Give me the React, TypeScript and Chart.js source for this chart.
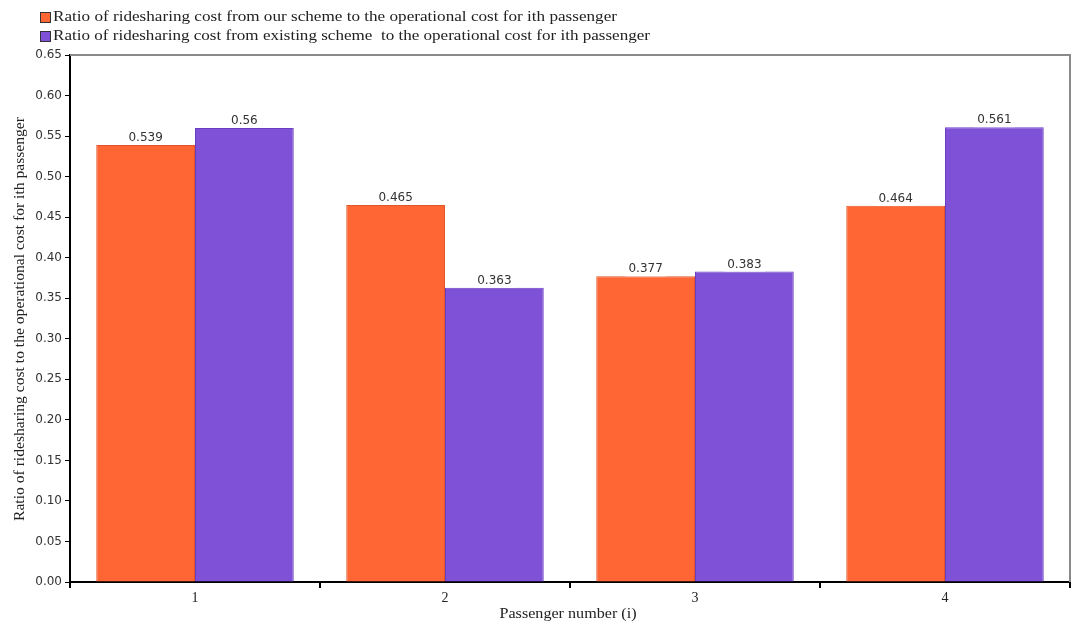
import React, { useEffect, useRef } from "react";
import { Chart, registerables } from "chart.js";

Chart.register(...registerables);

const categories = ["1", "2", "3", "4"];
const ourScheme = [0.539, 0.465, 0.377, 0.464];
const existingScheme = [0.56, 0.363, 0.383, 0.561];
const valueLabelsOur = ["0.539", "0.465", "0.377", "0.464"];
const valueLabelsExisting = ["0.56", "0.363", "0.383", "0.561"];
const seriesNames = [
  "Ratio of ridesharing cost from our scheme to the operational cost for ith passenger",
  "Ratio of ridesharing cost from existing scheme  to the operational cost for ith passenger",
];
const xTitle = "Passenger number (i)";
const yTitle = "Ratio of ridesharing cost to the operational cost for ith passenger";

const ORANGE = "#FF6633";
const ORANGE_BORDER = "#E2552A";
const PURPLE = "#7F51D6";
const PURPLE_BORDER = "#6A3EC0";
const SERIF = "'Liberation Serif', 'Times New Roman', serif";
const SANS = "'DejaVu Sans', sans-serif";

function drawStretched(ctx: CanvasRenderingContext2D, text: string, cx: number, cy: number, targetWidth: number, align: "left" | "center") {
  const w = ctx.measureText(text).width;
  const s = targetWidth / w;
  ctx.save();
  ctx.translate(cx, cy);
  ctx.scale(s, 1);
  ctx.textAlign = align;
  ctx.textBaseline = "middle";
  ctx.fillText(text, 0, 0);
  ctx.restore();
}

const valueLabelPlugin = {
  id: "valueLabels",
  afterDatasetsDraw(chart: any) {
    const ctx = chart.ctx;
    const labelSets = [valueLabelsOur, valueLabelsExisting];
    ctx.save();
    ctx.font = `12px ${SANS}`;
    ctx.textAlign = "center";
    ctx.textBaseline = "bottom";
    chart.data.datasets.forEach((ds: any, di: number) => {
      const meta = chart.getDatasetMeta(di);
      meta.data.forEach((bar: any, i: number) => {
        const text = labelSets[di][i];
        const w = ctx.measureText(text).width;
        ctx.fillStyle = "#ffffff";
        ctx.fillRect(bar.x - w / 2 - 3, bar.y - 15, w + 6, 15);
        ctx.fillStyle = "#333333";
        ctx.fillText(text, bar.x, bar.y - 1);
      });
    });
    ctx.restore();
  },
};

const framePlugin = {
  id: "frame",
  afterDraw(chart: any) {
    const { ctx, chartArea } = chart;
    ctx.save();
    ctx.strokeStyle = "#8a8a8a";
    ctx.lineWidth = 2;
    ctx.beginPath();
    ctx.moveTo(chartArea.left, chartArea.top);
    ctx.lineTo(chartArea.right, chartArea.top);
    ctx.lineTo(chartArea.right, chartArea.bottom);
    ctx.stroke();
    ctx.restore();
  },
};

const titlesPlugin = {
  id: "titles",
  afterDraw(chart: any) {
    const ctx = chart.ctx;
    const { chartArea } = chart;
    ctx.save();
    ctx.fillStyle = "#222";
    ctx.font = `15px ${SERIF}`;
    drawStretched(ctx, xTitle, (chartArea.left + chartArea.right) / 2 - 2, 614, 137, "center");
    ctx.save();
    ctx.translate(20, 319);
    ctx.rotate(-Math.PI / 2);
    ctx.font = `14px ${SERIF}`;
    drawStretched(ctx, yTitle, 0, 0, 404, "center");
    ctx.restore();
    ctx.restore();
  },
};

const legendPlugin = {
  id: "customLegend",
  afterDraw(chart: any) {
    const ctx = chart.ctx;
    const fills = [ORANGE, PURPLE];
    const rows = [17, 36];
    const widths = [564, 597];
    ctx.save();
    ctx.font = `15px ${SERIF}`;
    seriesNames.forEach((name, i) => {
      const y = rows[i];
      ctx.fillStyle = fills[i];
      ctx.fillRect(40, y - 5, 10, 10);
      ctx.strokeStyle = "#333";
      ctx.lineWidth = 1;
      ctx.strokeRect(40.5, y - 4.5, 10, 10);
      ctx.fillStyle = "#222";
      drawStretched(ctx, name, 53, y, widths[i], "left");
    });
    ctx.restore();
  },
};

export default function App() {
  const ref = useRef<HTMLCanvasElement | null>(null);

  useEffect(() => {
    if (!ref.current) return;
    const chart = new Chart(ref.current, {
      type: "bar",
      data: {
        labels: categories,
        datasets: [
          {
            label: seriesNames[0],
            data: ourScheme,
            backgroundColor: ORANGE,
            borderColor: ORANGE_BORDER,
            borderWidth: 1,
            categoryPercentage: 0.79,
            barPercentage: 1,
          },
          {
            label: seriesNames[1],
            data: existingScheme,
            backgroundColor: PURPLE,
            borderColor: PURPLE_BORDER,
            borderWidth: 1,
            categoryPercentage: 0.79,
            barPercentage: 1,
          },
        ],
      },
      options: {
        animation: false,
        responsive: false,
        maintainAspectRatio: false,
        layout: { padding: { top: 55, right: 8, left: 0, bottom: 0 } },
        plugins: {
          legend: { display: false },
          tooltip: { enabled: false },
        },
        scales: {
          x: {
            grid: {
              drawOnChartArea: false,
              drawTicks: true,
              tickLength: 6,
              color: "#000",
              lineWidth: 2,
              offset: true,
            },
            border: { color: "#000", width: 2 },
            ticks: {
              color: "#222",
              font: { family: SERIF, size: 14 },
              padding: 2,
            },
            title: { display: false, text: xTitle },
            afterFit(scale: any) {
              scale.height = 43;
            },
          },
          y: {
            min: 0,
            max: 0.65,
            grid: {
              drawOnChartArea: false,
              drawTicks: true,
              tickLength: 5,
              color: "#000",
              lineWidth: 1,
            },
            border: { color: "#000", width: 2 },
            ticks: {
              stepSize: 0.05,
              color: "#333",
              font: { family: SANS, size: 12 },
              padding: 3,
              callback: (v: any) => Number(v).toFixed(2),
            },
            title: { display: false, text: yTitle },
            afterFit(scale: any) {
              scale.width = 70;
            },
          },
        },
      },
      plugins: [valueLabelPlugin, framePlugin, titlesPlugin, legendPlugin],
    });
    return () => chart.destroy();
  }, []);

  return (
    <div style={{ position: "absolute", left: 0, top: 0, width: 1078, height: 625, background: "#fff" }}>
      <canvas ref={ref} width={1078} height={625} style={{ width: 1078, height: 625 }} />
    </div>
  );
}
